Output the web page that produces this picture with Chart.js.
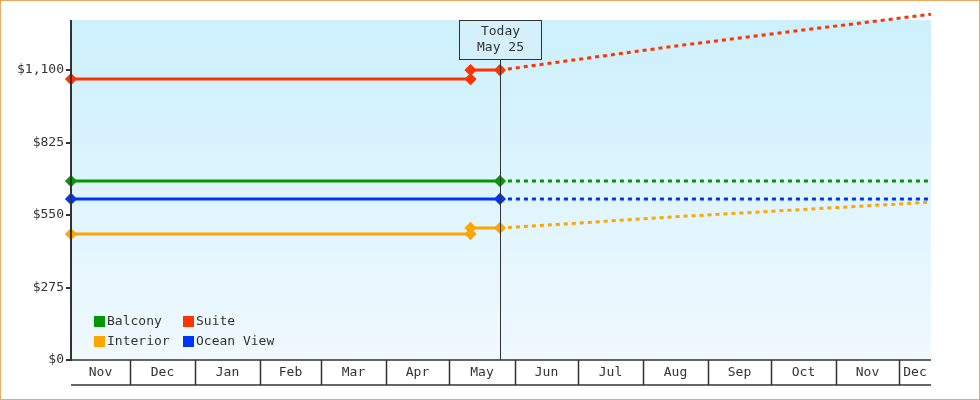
<!DOCTYPE html>
<html><head><meta charset="utf-8">
<script src="https://cdn.jsdelivr.net/npm/chart.js@4"></script>
<style>html,body{margin:0;padding:0;background:#fff}#w{width:978px;height:398px;border:1px solid #f0a860;position:relative}canvas{display:block}</style>
</head><body><div id="w"><canvas id="c" width="978" height="398"></canvas></div>
<script>
const startDate = '2023-11-03', endDate = '2024-12-16', today = '2024-05-25';
const monthLabels = ['Nov','Dec','Jan','Feb','Mar','Apr','May','Jun','Jul','Aug','Sep','Oct','Nov','Dec'];
const monthStarts = ['2023-12-01','2024-01-01','2024-02-01','2024-03-01','2024-04-01','2024-05-01','2024-06-01','2024-07-01','2024-08-01','2024-09-01','2024-10-01','2024-11-01','2024-12-01'];
const histDates = ['2023-11-03','2024-05-11','2024-05-11','2024-05-25'];
const futDates = ['2024-05-25','2024-08-20','2024-12-16'];
const suiteHist = [1066,1066,1100,1100], suiteFut = [1100,1195,1312];
const balconyHist = [679,null,null,679], balconyFut = [679,679,679];
const oceanHist = [611,null,null,611], oceanFut = [611,611,611];
const interiorHist = [478,478,501,501], interiorFut = [501,545,599];
const yTicks = [0,275,550,825,1100];
const yMax = 1290;
const day = s => Date.parse(s)/864e5;
const pts = (d,v) => d.map((x,i)=>({x:day(x),y:v[i]})).filter(p=>p.y!==null);
const colors = {Balcony:'#009900',Suite:'#ff3300',Interior:'#ffa500','Ocean View':'#0033ff'};
function ds(name,d,v,fut){
  const c=colors[name];
  return {label:name,data:pts(d,v),borderColor:c,backgroundColor:c,borderWidth:3,
    borderDash:fut?[4,4]:[],pointStyle:'rectRot',pointRadius:fut?0:4,pointHoverRadius:4,clip:false,tension:0};
}
const font = '13px "DejaVu Sans Mono", monospace';
const deco = {
  id:'deco',
  beforeDatasetsDraw(ch){
    const {ctx,chartArea:a}=ch;
    const g=ctx.createLinearGradient(0,a.top,0,a.bottom);
    g.addColorStop(0,'#ccf0fc');g.addColorStop(1,'#f0f9fe');
    ctx.save();ctx.fillStyle=g;ctx.fillRect(a.left,a.top,a.right-a.left,a.bottom-a.top);ctx.restore();
  },
  afterDatasetsDraw(ch){
    const {ctx,chartArea:a,scales:{x,y}}=ch;
    ctx.save();
    ctx.strokeStyle='#333';ctx.fillStyle='#333';ctx.font=font;
    const tx=Math.round(x.getPixelForValue(day(today)))+0.5;
    ctx.lineWidth=1;ctx.beginPath();ctx.moveTo(tx,a.top+40);ctx.lineTo(tx,a.bottom);ctx.stroke();
    ctx.fillStyle='#d4f1fb';ctx.fillRect(tx-41,a.top,82,40);ctx.strokeRect(tx-41,a.top+0.5,82,39);
    ctx.fillStyle='#333';ctx.textAlign='center';ctx.textBaseline='middle';
    ctx.fillText('Today',tx,a.top+12);ctx.fillText('May 25',tx,a.top+28);
    ctx.lineWidth=2;ctx.beginPath();ctx.moveTo(a.left,a.top);ctx.lineTo(a.left,a.bottom+1);ctx.stroke();
    ctx.textAlign='right';
    yTicks.forEach(v=>{const py=Math.round(y.getPixelForValue(v));
      ctx.beginPath();ctx.moveTo(a.left-5,py);ctx.lineTo(a.left,py);ctx.stroke();
      ctx.fillText('$'+v.toLocaleString('en-US'),a.left-7,py);});
    ctx.lineWidth=1.5;
    ctx.beginPath();ctx.moveTo(a.left,a.bottom);ctx.lineTo(a.right,a.bottom);ctx.stroke();
    ctx.beginPath();ctx.moveTo(a.left,a.bottom+25);ctx.lineTo(a.right,a.bottom+25);ctx.stroke();
    const b=[a.left,...monthStarts.map(m=>Math.round(x.getPixelForValue(day(m)))),a.right];
    ctx.textAlign='center';
    monthLabels.forEach((m,i)=>{
      if(i>0){ctx.beginPath();ctx.moveTo(b[i]+0.5,a.bottom);ctx.lineTo(b[i]+0.5,a.bottom+25);ctx.stroke();}
      ctx.fillText(m,(b[i]+b[i+1])/2,a.bottom+13);
    });
    const items=[['Balcony',93,320],['Suite',182,320],['Interior',93,340],['Ocean View',182,340]];
    ctx.textAlign='left';
    items.forEach(([n,lx,ly])=>{ctx.fillStyle=colors[n];ctx.fillRect(lx,ly-5,11,11);
      ctx.fillStyle='#333';ctx.fillText(n,lx+13,ly+1);});
    ctx.restore();
  }
};
new Chart(document.getElementById('c'),{
  type:'line',
  data:{datasets:[
    ds('Suite',histDates,suiteHist,false),ds('Suite',futDates,suiteFut,true),
    ds('Balcony',histDates,balconyHist,false),ds('Balcony',futDates,balconyFut,true),
    ds('Ocean View',histDates,oceanHist,false),ds('Ocean View',futDates,oceanFut,true),
    ds('Interior',histDates,interiorHist,false),ds('Interior',futDates,interiorFut,true)]},
  options:{responsive:false,animation:false,devicePixelRatio:1,
    layout:{padding:{left:70,top:19,right:48,bottom:39}},
    plugins:{legend:{display:false},tooltip:{enabled:false}},
    scales:{x:{type:'linear',display:false,min:day(startDate),max:day(endDate)},
            y:{display:false,min:0,max:yMax}}},
  plugins:[deco]
});
</script></body></html>
